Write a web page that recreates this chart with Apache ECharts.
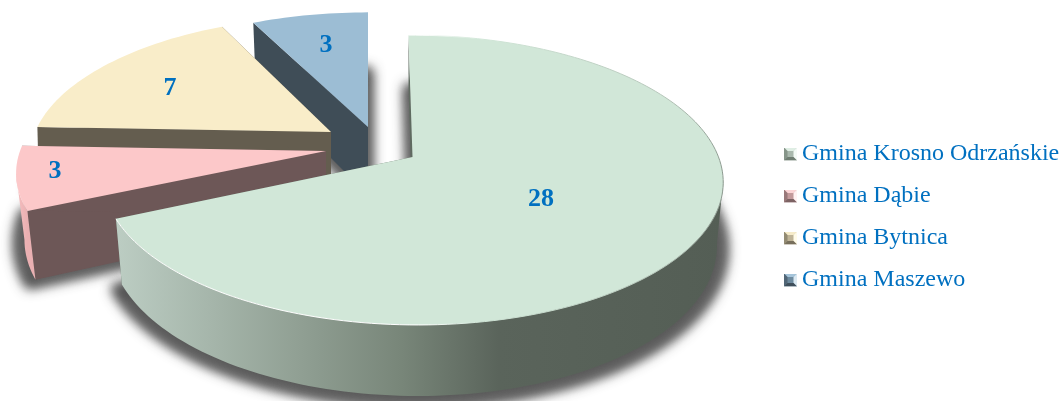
<!DOCTYPE html>
<html><head><meta charset="utf-8">
<style>html,body{margin:0;padding:0;background:#fff}#c{width:1060px;height:401px}</style>
<script src="https://cdn.jsdelivr.net/npm/echarts@6/dist/echarts.min.js"></script>
</head><body><div id="c"></div>
<script>
const categories = ['Gmina Krosno Odrzańskie', 'Gmina Dąbie', 'Gmina Bytnica', 'Gmina Maszewo'];
const values = [28, 3, 7, 3];

// appearance of each slice (positions of the exploded pieces, colours)
const looks = [
  {ax:412.5,ay:157,sx:1,sy:1,xs:.033,ys:0,h:62,t:.02,z:4,top:'#d1e7d8',side:'#5f6b60',
   outer:[[0,'#bccdc3'],[.47,'#788679'],[.63,'#5a645b'],[1,'#545e55']],lab:[128.5,42],
   icon:['#dfeee4','#f4faf6','#6f7d72','#a9b8ad']},
  {ax:326,ay:151,sx:1,sy:.97,xs:0,ys:0,h:65,t:.027,z:3,top:'#fcc8c9',side:'#6d5757',
   outer:[[0,'#f6c0c1'],[1,'#eab0b2']],lab:[-271,20],
   icon:['#fbd4d5','#fff2f2','#7c6263','#c39a9b']},
  {ax:331,ay:132,sx:.967,sy:.95,xs:-.057,ys:0,h:60,t:.005,z:2,top:'#f9edc9',side:'#645d4f',
   outer:[[0,'#645d4f'],[1,'#645d4f']],lab:[-161,-44],
   icon:['#f6ebc9','#fffbe9','#776f5c','#bfb497']},
  {ax:368,ay:127,sx:.965,sy:.94,xs:0,ys:0,h:68,t:.02,z:1,top:'#9cbdd4',side:'#3f4d57',
   outer:[[0,'#3f4d57'],[1,'#3f4d57']],lab:[-42,-82],
   icon:['#a5c4da','#dbe9f2','#3f4f5b','#6d8a9e']}
];
const B = 306, A = 141.3, K = 0.1587, STEP = 1.5;
const total = values.reduce((a, b) => a + b, 0);
const FRONT0 = Math.acos(-K) * 180 / Math.PI, FRONT1 = 360 - FRONT0;

function angles(i) {
  let s = 0;
  for (let j = 0; j < i; j++) s += values[j];
  return [s / total * 360, (s + values[i]) / total * 360];
}
function pt(L, deg, r, low, grow) {
  const a = deg * Math.PI / 180, x = r * Math.sin(a), z = -r * Math.cos(a), d = 1 - K * z;
  const g = grow || 1;
  let lx = B * L.sx * x / d * g, ly = A * L.sy * z / d * g;
  const px = lx + L.xs * ly, py = ly + L.ys * lx;
  if (low) return [L.ax + px * (1 - L.t), L.ay + py + L.h + 9 * z];
  return [L.ax + px, L.ay + py];
}
function arc(L, a0, a1, low, grow) {
  const out = [], n = Math.max(2, Math.ceil((a1 - a0) / STEP));
  for (let i = 0; i <= n; i++) out.push(pt(L, a0 + (a1 - a0) * i / n, 1, low, grow));
  return out;
}
function grad(stops, x0, x1) {
  return {type:'linear', x:x0, y:0, x2:x1, y2:0, global:true,
    colorStops:stops.map(s => ({offset:s[0], color:s[1]}))};
}
function sliceItem(i, value) {
  const L = looks[i], [a0, a1] = angles(i);
  const topRim = arc(L, a0, a1, false), lowRim = arc(L, a0, a1, true);
  const c = pt(L, 0, 0, false), cl = pt(L, 0, 0, true);
  const xs = topRim.map(p => p[0]);
  const x0 = Math.min(...xs), x1 = Math.max(...xs);
  const children = [
    {type:'polygon', shape:{points:[c, topRim[0], lowRim[0], cl]}, style:{fill:L.side}},
    {type:'polygon', shape:{points:[c, topRim[topRim.length-1], lowRim[lowRim.length-1], cl]}, style:{fill:L.side}}
  ];
  const f0 = Math.max(a0, FRONT0), f1 = Math.min(a1, FRONT1);
  if (f1 > f0) {
    const t = arc(L, f0, f1, false), b = arc(L, f0, f1, true);
    const tx = t.map(p => p[0]);
    children.push({type:'polygon', shape:{points:t.concat(b.reverse())},
      style:{fill:grad(L.outer, Math.min(...tx), Math.max(...tx))}});
  }
  children.push({type:'polygon', shape:{points:[c].concat(topRim)}, style:{fill:L.top}});
  if (i === 0) {
    children.push({type:'polyline', shape:{points:topRim},
      style:{fill:'none', lineWidth:1, stroke:grad([[0,'#ffffff'],[.5,'#ffffff'],[.6,'#d1e7d8'],[.9,'#b6c6ba'],[1,'#8d9a90']], x0, x1)}});
  }
  children.push({type:'text', x:L.ax + L.lab[0], y:L.ay + L.lab[1],
    style:{text:String(value), fill:'#0070c0', font:'bold 26px "Liberation Serif"', align:'center', verticalAlign:'middle'}});
  return {type:'group', children};
}
function shadowItem() {
  const FAR = 3000, children = [];
  values.forEach((v, i) => {
    const L = looks[i], [a0, a1] = angles(i);
    const pts = [pt(L, 0, 0, true)].concat(arc(L, a0, a1, true, 1.02)).map(p => [p[0] - FAR, p[1]]);
    children.push({type:'polygon', shape:{points:pts},
      style:{fill:'#444', stroke:'#444', lineWidth:11, lineJoin:'round',
             shadowColor:'rgba(60,60,60,0.85)', shadowBlur:12, shadowOffsetX:FAR, shadowOffsetY:3}});
  });
  return {type:'group', children};
}
function iconUri(c) {
  const svg = `<svg xmlns="http://www.w3.org/2000/svg" width="13" height="13"><rect width="13" height="13" fill="${c[3]}"/>` +
    `<path d="M0 0H13L9.5 3.5H3.5L0 0Z" fill="${c[0]}"/><path d="M13 0V13L9.5 9.5V3.5Z" fill="${c[1]}"/>` +
    `<path d="M0 13H13L9.5 9.5H3.5Z" fill="${c[2]}"/><path d="M0 0V13L3.5 9.5V3.5Z" fill="${c[2]}" opacity=".6"/></svg>`;
  return 'image://data:image/svg+xml;charset=utf-8,' + encodeURIComponent(svg);
}
const series = categories.map((name, i) => ({
  type:'custom', name, coordinateSystem:'none', z:looks[i].z + 2, silent:true,
  data:[[values[i]]], itemStyle:{color:looks[i].top},
  renderItem:(p, api) => sliceItem(i, api.value(0))
}));
series.push({type:'custom', name:'shadow', coordinateSystem:'none', z:1, silent:true,
  data:[[0]], renderItem:() => shadowItem()});

const chart = echarts.init(document.getElementById('c'), null, {renderer:'canvas'});
chart.setOption({
  animation:false,
  legend:{
    orient:'vertical', left:779, top:137, itemWidth:13, itemHeight:13, itemGap:18, selectedMode:false,
    textStyle:{color:'#0070c0', fontFamily:'"Liberation Serif"', fontSize:24},
    data:categories.map((name, i) => ({name, icon:iconUri(looks[i].icon)}))
  },
  series
});
</script></body></html>
